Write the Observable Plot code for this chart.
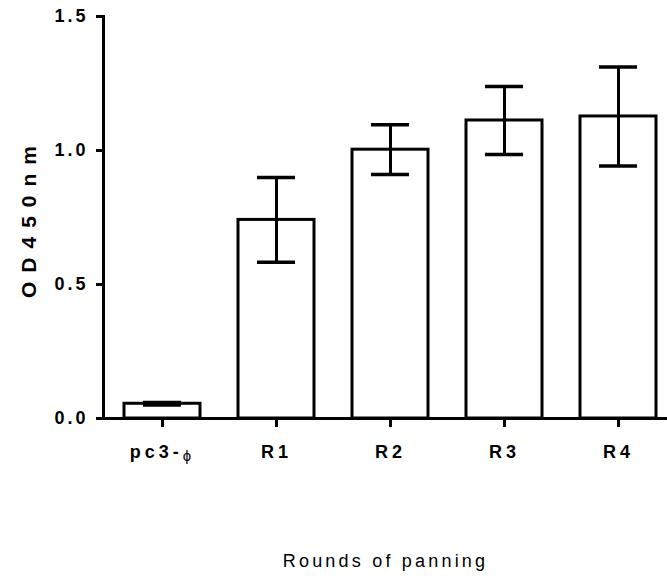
<!DOCTYPE html>
<html>
<head>
<meta charset="utf-8">
<script src="https://cdn.jsdelivr.net/npm/d3@7"></script>
<script src="https://cdn.jsdelivr.net/npm/@observablehq/plot@0.6"></script>
<style>
  html, body { margin: 0; padding: 0; background: white; }
</style>
</head>
<body>
<div id="chart"></div>
<script>
const categories = ["pc3-ϕ", "R1", "R2", "R3", "R4"];
const means = [0.055, 0.741, 1.003, 1.112, 1.127];
const errors = [0.005, 0.158, 0.093, 0.127, 0.185];
const yTicks = [0, 0.5, 1.0, 1.5];
const yTitle = "OD450nm";
const xTitle = "Rounds of panning";

const data = categories.map((c, i) => ({cat: c, mean: means[i], err: errors[i]}));

const svg = Plot.plot({
  width: 667,
  height: 579,
  marginTop: 16,
  marginBottom: 161,
  marginLeft: 103,
  marginRight: 0,
  style: {
    fontFamily: "'Liberation Sans', Arial, sans-serif",
    fontSize: "18px",
    fontWeight: "bold",
    letterSpacing: "4px",
    color: "black",
    background: "white"
  },
  x: {domain: categories, range: [103, 676], paddingInner: 0.337, paddingOuter: 0.166, label: null},
  y: {domain: [0, 1.5], label: null},
  marks: [
    Plot.barY(data, {x: "cat", y: "mean", fill: "white", stroke: "black", strokeWidth: 3}),
    Plot.ruleX(data, {x: "cat", y1: d => d.mean - d.err, y2: d => d.mean + d.err, stroke: "black", strokeWidth: 3}),
    Plot.tickY(data, {x: "cat", y: d => d.mean + d.err, stroke: "black", strokeWidth: 3.5, insetLeft: 19, insetRight: 19}),
    Plot.tickY(data, {x: "cat", y: d => d.mean - d.err, stroke: "black", strokeWidth: 3.5, insetLeft: 19, insetRight: 19}),
    Plot.ruleY([0], {stroke: "black", strokeWidth: 3}),
    Plot.frame({anchor: "left", stroke: "black", strokeWidth: 3}),
    Plot.axisY({ticks: yTicks, tickSize: 7, tickPadding: 8, strokeWidth: 3, fontSize: 18, fontWeight: "bold", tickFormat: d3.format(".1f"), label: null}),
    Plot.axisX({tickSize: 9, tickPadding: 18, strokeWidth: 3, fontSize: 18, fontWeight: "bold", label: null}),
    Plot.text([yTitle], {frameAnchor: "left", textAnchor: "middle", rotate: -90, dx: -74, dy: 0, fontSize: 21, fontWeight: "bold", fill: "black"}),
    Plot.text([xTitle], {frameAnchor: "bottom", textAnchor: "middle", dy: 148, fontSize: 18, fontWeight: "normal", fill: "black"})
  ]
});

const root = d3.select(svg);
root.selectAll("g[aria-label='y-axis tick label'] text").style("letter-spacing", "3px");
root.selectAll("text").each(function() {
  const t = d3.select(this);
  const s = this.textContent;
  if (s === yTitle) t.style("letter-spacing", "9px");
  if (s === xTitle) t.style("letter-spacing", "3.2px");
  if (s === "pc3-ϕ") {
    const tsp = t.select("tspan").empty() ? t : t.select("tspan");
    tsp.text("pc3-");
    tsp.append("tspan").attr("font-size", 15).attr("font-weight", "normal").attr("fill", "black").attr("dy", 3).text("ϕ");
  }
});

document.getElementById("chart").appendChild(svg);
</script>
</body>
</html>
